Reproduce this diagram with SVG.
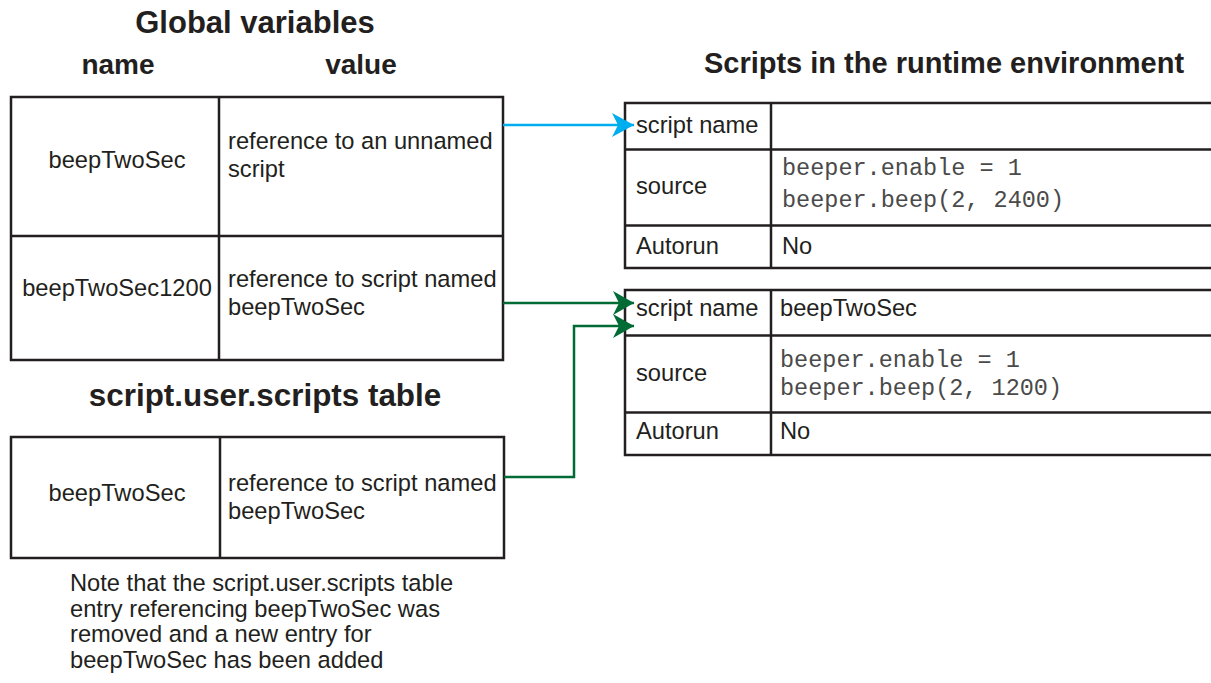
<svg xmlns="http://www.w3.org/2000/svg" width="1211" height="683" viewBox="0 0 1211 683">
<style>
  .t { font-family: "Liberation Sans", Arial, sans-serif; font-size: 23.7px; fill: #231f20; }
  .m { font-family: "Liberation Mono", "Courier New", monospace; font-size: 23.5px; fill: #4a4a4a; }
  .h { font-family: "Liberation Sans", Arial, sans-serif; font-weight: bold; fill: #231f20; }
  .box { fill: #ffffff; stroke: #231f20; stroke-width: 2.5; }
  .ln { stroke: #231f20; stroke-width: 2.5; fill: none; }
  .blue { stroke: #00aeef; stroke-width: 2.5; fill: none; }
  .green { stroke: #006b35; stroke-width: 2.5; fill: none; }
</style>
<defs>
  <marker id="ahBlue" markerUnits="userSpaceOnUse" markerWidth="30" markerHeight="30" refX="24" refY="14" orient="auto" overflow="visible">
    <path d="M24,14 L2,2 L8,14 L2,26 Z" fill="#00aeef"/>
  </marker>
  <marker id="ahGreen" markerUnits="userSpaceOnUse" markerWidth="30" markerHeight="30" refX="23" refY="14" orient="auto" overflow="visible">
    <path d="M23,14 L2,2 L8,14 L2,26 Z" fill="#006b35"/>
  </marker>
</defs>
<rect width="1211" height="683" fill="#ffffff"/>

<g id="headings">
  <text class="h" x="255" y="33" font-size="31" text-anchor="middle">Global variables</text>
  <text class="h" x="118" y="74" font-size="28" text-anchor="middle">name</text>
  <text class="h" x="361" y="74" font-size="28" text-anchor="middle">value</text>
  <text class="h" x="944" y="73" font-size="29" text-anchor="middle">Scripts in the runtime environment</text>
  <text class="h" x="265" y="406" font-size="31.4" text-anchor="middle">script.user.scripts table</text>
</g>

<g id="global-table">
  <rect class="box" x="11" y="97" width="492" height="263"/>
  <line class="ln" x1="219" y1="97" x2="219" y2="360"/>
  <line class="ln" x1="11" y1="236" x2="503" y2="236"/>
  <text class="t" x="117" y="168" text-anchor="middle">beepTwoSec</text>
  <text class="t" x="228" y="149">reference to an unnamed</text>
  <text class="t" x="228" y="177">script</text>
  <text class="t" x="117" y="296" text-anchor="middle">beepTwoSec1200</text>
  <text class="t" x="228" y="287">reference to script named</text>
  <text class="t" x="228" y="315">beepTwoSec</text>
</g>

<g id="user-scripts-table">
  <rect class="box" x="11" y="437" width="493" height="121"/>
  <line class="ln" x1="220" y1="437" x2="220" y2="558"/>
  <text class="t" x="117" y="501" text-anchor="middle">beepTwoSec</text>
  <text class="t" x="228" y="491">reference to script named</text>
  <text class="t" x="228" y="519">beepTwoSec</text>
</g>

<g id="note">
  <text class="t" x="70" y="591">Note that the script.user.scripts table</text>
  <text class="t" x="70" y="616.5">entry referencing beepTwoSec was</text>
  <text class="t" x="70" y="642">removed and a new entry for</text>
  <text class="t" x="70" y="667.5">beepTwoSec has been added</text>
</g>

<g id="script-unnamed">
  <rect class="box" x="625" y="103" width="600" height="165"/>
  <line class="ln" x1="771" y1="103" x2="771" y2="268"/>
  <line class="ln" x1="625" y1="149.5" x2="1225" y2="149.5"/>
  <line class="ln" x1="625" y1="225.5" x2="1225" y2="225.5"/>
  <text class="t" x="636" y="133">script name</text>
  <text class="t" x="636" y="194">source</text>
  <text class="m" x="782" y="175">beeper.enable = 1</text>
  <text class="m" x="782" y="207">beeper.beep(2, 2400)</text>
  <text class="t" x="636" y="254">Autorun</text>
  <text class="t" x="782" y="254">No</text>
</g>

<g id="script-beepTwoSec">
  <rect class="box" x="625" y="290" width="600" height="165"/>
  <line class="ln" x1="771" y1="290" x2="771" y2="455"/>
  <line class="ln" x1="625" y1="335.5" x2="1225" y2="335.5"/>
  <line class="ln" x1="625" y1="412.5" x2="1225" y2="412.5"/>
  <text class="t" x="636" y="316">script name</text>
  <text class="t" x="780" y="316">beepTwoSec</text>
  <text class="t" x="636" y="381">source</text>
  <text class="m" x="780" y="367">beeper.enable = 1</text>
  <text class="m" x="780" y="395">beeper.beep(2, 1200)</text>
  <text class="t" x="636" y="439">Autorun</text>
  <text class="t" x="780" y="439">No</text>
</g>

<g id="connectors">
  <path class="blue" d="M503,125 H634" marker-end="url(#ahBlue)"/>
  <path class="green" d="M503,303 H634" marker-end="url(#ahGreen)"/>
  <path class="green" d="M504,477 H574 V326 H634" marker-end="url(#ahGreen)"/>
</g>
</svg>
